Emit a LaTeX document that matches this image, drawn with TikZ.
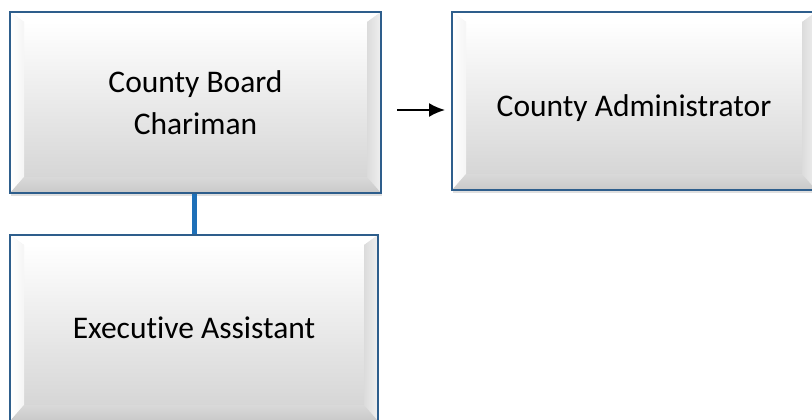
\documentclass[tikz,border=0pt]{standalone}
\usepackage{fontspec}
\setmainfont{Carlito}[RawFeature={-liga}]
\usetikzlibrary{arrows.meta,shadows}
\definecolor{bordblue}{RGB}{46,94,140}
\definecolor{linkblue}{RGB}{30,112,184}
\tikzset{
  bevelbox/.style={
    rectangle, draw=bordblue, line width=2pt,
    fill=gray!15,
    drop shadow={opacity=0.25, shadow xshift=1pt, shadow yshift=-3pt},
    font=\fontsize{31.5}{42}\selectfont, align=center, text=black,
    path picture={
      \coordinate (NW) at (path picture bounding box.north west);
      \coordinate (NE) at (path picture bounding box.north east);
      \coordinate (SW) at (path picture bounding box.south west);
      \coordinate (SE) at (path picture bounding box.south east);
      \shade[top color=white, bottom color=gray!32]
        ([shift={(14,10)}]NW) rectangle ([shift={(-14,-16)}]SE);
      \fill[white] (NW) -- (NE) -- ([shift={(-14,10)}]NE) -- ([shift={(14,10)}]NW) -- cycle;
      \shade[left color=white, right color=gray!8] (NW) -- ([shift={(14,10)}]NW) -- ([shift={(14,-16)}]SW) -- (SW) -- cycle;
      \shade[left color=gray!28, right color=gray!12] (NE) -- (SE) -- ([shift={(-14,-16)}]SE) -- ([shift={(-14,10)}]NE) -- cycle;
      \shade[top color=gray!30, bottom color=gray!42] (SW) -- ([shift={(14,-16)}]SW) -- ([shift={(-14,-16)}]SE) -- (SE) -- cycle;
    }
  },
  arrowline/.style={draw=black, line width=2pt},
  vlink/.style={draw=linkblue, line width=5pt}
}
\begin{document}
\begin{tikzpicture}[x=1pt,y=-1pt]
  \useasboundingbox (0,0) rectangle (812,420);
  \node[bevelbox, minimum width=371pt, minimum height=181pt] (b1) at (195.5,102.5) {County Board\\Chariman};
  \node[bevelbox, minimum width=364pt, minimum height=178pt] (b2) at (634,101) {\raisebox{-7pt}[\height][\depth]{County Administrator}};
  \node[bevelbox, minimum width=368pt, minimum height=186pt] (b3) at (194,328) {Executive Assistant};
  \draw[vlink] (b3.north) -- (b3.north |- b1.south);
  \draw[arrowline, -{Latex[length=16pt,width=14pt]}, shorten <=15pt, shorten >=6pt] ([yshift=-7.5pt]b1.east) -- ([yshift=-7.5pt]b1.east -| b2.west);
\end{tikzpicture}
\end{document}
